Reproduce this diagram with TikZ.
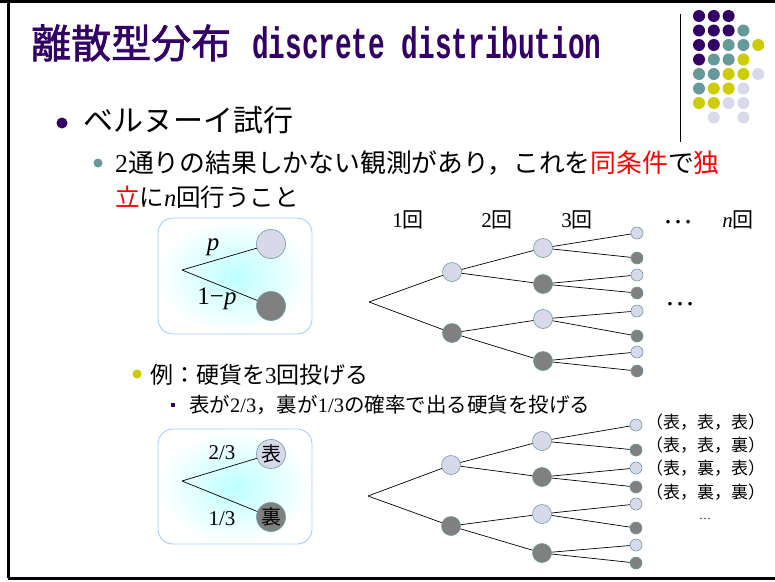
\documentclass[tikz,border=0pt]{standalone}
\usepackage{fontspec}
\setmainfont{Liberation Serif}
\newfontfamily\jp{Noto Sans CJK JP}
\newfontfamily\jpbold[FakeBold=1.6]{Noto Sans CJK JP}
\newfontfamily\monot[FakeStretch=0.63]{Liberation Mono}
\newcommand\lat[1]{{\rmfamily #1}}
\newcommand\lati[1]{{\rmfamily\itshape #1}}
\newcommand\fsz[1]{\fontsize{#1}{#1}\selectfont}
\definecolor{ttl}{RGB}{51,0,102}
\definecolor{dpurp}{RGB}{51,0,102}
\definecolor{dteal}{RGB}{102,153,153}
\definecolor{dyel}{RGB}{204,204,0}
\definecolor{dlav}{RGB}{217,217,236}
\definecolor{nlight}{RGB}{216,216,235}
\definecolor{ndark}{RGB}{128,128,128}
\definecolor{nborder}{RGB}{110,155,160}
\definecolor{pborder}{RGB}{153,204,255}
\definecolor{pcyan}{RGB}{190,255,255}
\begin{document}
\begin{tikzpicture}[x=1pt,y=-1pt,
  txt/.style={inner sep=0pt, anchor=west, text=black},
  lt/.style={circle, draw=nborder, fill=nlight, inner sep=0pt, line width=0.6pt},
  dk/.style={circle, draw=nborder, fill=ndark, inner sep=0pt, line width=0.6pt},
  big/.style={minimum size=29pt},
  mid/.style={minimum size=19pt},
  sml/.style={minimum size=12pt},
  br/.style={draw=black, line width=0.7pt},
  panel/.style={draw=pborder, line width=0.8pt, rounded corners=15pt, inner color=pcyan, outer color=white},
  hdr/.style={inner sep=0pt, font=\jp\fsz{21}},
  res/.style={inner sep=0pt, anchor=west, font=\jp\fsz{17}}
]
\useasboundingbox (0,0) rectangle (775,581);
\fill[white] (0,0) rectangle (775,581);
% frame
\draw[line width=3pt] (0,1.5) -- (775,1.5);
\draw[line width=2.5pt] (8.7,0) -- (8.7,578);
\draw[line width=3pt] (7.5,578) -- (775,578);
% separator and dots
\draw[line width=1pt] (680,14) -- (680,142);
\foreach \c/\r/\col in {
  1/1/dpurp,2/1/dpurp,3/1/dpurp,
  1/2/dpurp,2/2/dpurp,3/2/dpurp,4/2/dteal,
  1/3/dpurp,2/3/dpurp,3/3/dteal,4/3/dteal,5/3/dyel,
  1/4/dpurp,2/4/dteal,3/4/dteal,4/4/dyel,
  1/5/dteal,2/5/dteal,3/5/dyel,4/5/dyel,5/5/dlav,
  1/6/dteal,2/6/dyel,3/6/dyel,4/6/dlav,
  1/7/dyel,2/7/dyel,3/7/dlav,4/7/dlav,
  2/8/dlav,4/8/dlav}
  \fill[\col] ({699+(\c-1)*14.8},{16+(\r-1)*14.5}) circle (6pt);
% title
\node[inner sep=0pt, anchor=west, text=ttl, font=\jpbold\fsz{40}] (t1) at (31,43) {離散型分布};
\node[inner sep=0pt, anchor=base west, text=ttl, font=\monot\bfseries\fsz{44}] (t2) at (252,58) {discrete distribution};
% bullets and text
\fill[dpurp] (62,123) circle (5.5pt);
\node[txt, font=\jp\fsz{30}] (l1) at (83,120) {ベルヌーイ試行};
\fill[dteal] (98,163) circle (4.5pt);
\node[txt, font=\jp\fsz{25.8}] (l2) at (115,163) {\lat{2}通りの結果しかない観測があり，これを\textcolor{red}{同条件}で\textcolor{red}{独}};
\node[txt, font=\jp\fsz{24.5}] (l3) at (115,197) {\textcolor{red}{立}に\lati{n}回行うこと};
\fill[dyel] (137,374) circle (4.5pt);
\node[txt, font=\jp\fsz{23}] (l4) at (150,375) {例：硬貨を\lat{3}回投げる};
\fill[dpurp] (171,403) rectangle (175,407);
\node[txt, font=\jp\fsz{20.5}] (l5) at (189,405) {表が\lat{2/3}，裏が\lat{1/3}の確率で出る硬貨を投げる};
% panel 1
\path[panel] (158,218) rectangle (312,334);
\coordinate (p1r) at (182,270);
\node[lt,big] (p1u) at (271,244) {};
\node[dk,big] (p1d) at (271,306) {};
\draw[br] (p1r) -- (p1u);
\draw[br] (p1r) -- (p1d);
\node[inner sep=0pt, font=\fsz{25}] (p1p) at (213,247) {\textit{p}};
\node[inner sep=0pt, font=\fsz{25}] (p1q) at (217,299) {1−\textit{p}};
% panel 2
\path[panel] (158,429) rectangle (312,544);
\coordinate (p2r) at (182,481);
\node[lt,big,font=\jp\fsz{20}] (p2u) at (271,454) {表};
\node[dk,big,font=\jp\fsz{20}] (p2d) at (271,517) {裏};
\draw[br] (p2r) -- (p2u);
\draw[br] (p2r) -- (p2d);
\node[inner sep=0pt, font=\fsz{21}] (p2a) at (222,453) {2/3};
\node[inner sep=0pt, font=\fsz{21}] (p2b) at (222,519) {1/3};
% headers
\node[hdr] (h1) at (408,220) {\lat{1}回};
\node[hdr] (h2) at (497,220) {\lat{2}回};
\node[hdr] (h3) at (577,220) {\lat{3}回};
\node[inner sep=0pt, font=\fsz{30}] (h4) at (678,222) {…};
\node[hdr] (h5) at (738,220) {\lati{n}回};
\node[inner sep=0pt, font=\fsz{30}] (hd) at (680,304) {…};
% tree 1
\coordinate (r) at (369,302);
\node[lt,mid] (a1) at (452,272) {};
\node[dk,mid] (a2) at (452,333) {};
\node[lt,mid] (b1) at (543,248) {};
\node[dk,mid] (b2) at (543,284) {};
\node[lt,mid] (b3) at (543,319) {};
\node[dk,mid] (b4) at (543,361) {};
\node[lt,sml] (c1) at (637,233) {};
\node[dk,sml] (c2) at (637,258) {};
\node[lt,sml] (c3) at (637,275) {};
\node[dk,sml] (c4) at (637,293) {};
\node[lt,sml] (c5) at (637,311) {};
\node[dk,sml] (c6) at (637,336) {};
\node[lt,sml] (c7) at (637,352) {};
\node[dk,sml] (c8) at (637,371) {};
\foreach \u/\v in {r/a1,r/a2,a1/b1,a1/b2,a2/b3,a2/b4,b1/c1,b1/c2,b2/c3,b2/c4,b3/c5,b3/c6,b4/c7,b4/c8}
  \draw[br] (\u) -- (\v);
% tree 2
\coordinate (s) at (368,496);
\node[lt,mid] (d1) at (451,465) {};
\node[dk,mid] (d2) at (451,526) {};
\node[lt,mid] (e1) at (542,441) {};
\node[dk,mid] (e2) at (542,477) {};
\node[lt,mid] (e3) at (542,514) {};
\node[dk,mid] (e4) at (542,553) {};
\node[lt,sml] (f1) at (636,425) {};
\node[dk,sml] (f2) at (636,450) {};
\node[lt,sml] (f3) at (636,468) {};
\node[dk,sml] (f4) at (636,487) {};
\node[lt,sml] (f5) at (636,504) {};
\node[dk,sml] (f6) at (636,528) {};
\node[lt,sml] (f7) at (636,545) {};
\node[dk,sml] (f8) at (636,563) {};
\foreach \u/\v in {s/d1,s/d2,d1/e1,d1/e2,d2/e3,d2/e4,e1/f1,e1/f2,e2/f3,e2/f4,e3/f5,e3/f6,e4/f7,e4/f8}
  \draw[br] (\u) -- (\v);
\node[res] (o1) at (646,422) {（表，表，表）};
\node[res] (o2) at (646,445) {（表，表，裏）};
\node[res] (o3) at (646,468) {（表，裏，表）};
\node[res] (o4) at (646,492) {（表，裏，裏）};
\node[inner sep=0pt, font=\fsz{12}] (od) at (705,519) {…};
\end{tikzpicture}
\end{document}
